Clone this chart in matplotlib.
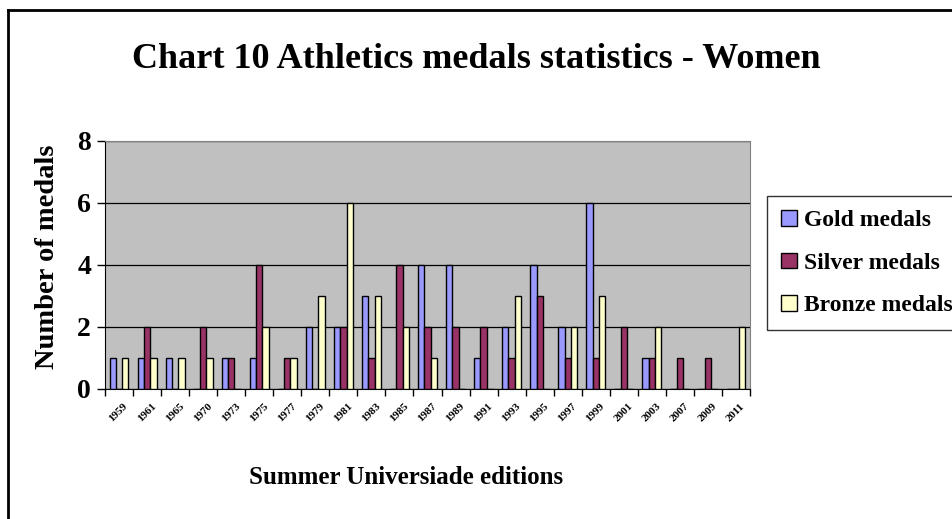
import numpy as np
import matplotlib
matplotlib.use("Agg")
import matplotlib.pyplot as plt
from matplotlib.lines import Line2D

plt.rcParams['font.family'] = ['Liberation Serif', 'DejaVu Serif']
plt.rcParams['font.weight'] = 'bold'

# Universiade editions and medal counts
editions = ['1959', '1961', '1965', '1970', '1973', '1975', '1977', '1979',
            '1981', '1983', '1985', '1987', '1989', '1991', '1993', '1995',
            '1997', '1999', '2001', '2003', '2007', '2009', '2011']
gold = [1, 1, 1, 0, 1, 1, 0, 2, 2, 3, 0, 4, 4, 1, 2, 4, 2, 6, 0, 1, 0, 0, 0]
silver = [0, 2, 0, 2, 1, 4, 1, 0, 2, 1, 4, 2, 2, 2, 1, 3, 1, 1, 2, 1, 1, 1, 0]
bronze = [1, 1, 1, 1, 0, 2, 1, 3, 6, 3, 2, 1, 0, 0, 3, 0, 2, 3, 0, 2, 0, 0, 2]

series = [('Gold medals', gold, '#9999FF'),
          ('Silver medals', silver, '#993366'),
          ('Bronze medals', bronze, '#FFFFCC')]

fig = plt.figure(figsize=(9.52, 5.19), dpi=100)
ax = fig.add_axes([105 / 952, 1 - 389 / 519, 645 / 952, 248 / 519])
ax.set_facecolor('#C0C0C0')

x = np.arange(len(editions)) + 0.5
w = 0.225
for i, (name, vals, col) in enumerate(series):
    ax.bar(x + (i - 1) * w, vals, width=w, color=col, edgecolor='black',
           linewidth=1, label=name, zorder=3)

ax.set_xlim(0, len(editions))
ax.set_ylim(0, 8)
ax.set_yticks([0, 2, 4, 6, 8])
ax.yaxis.grid(True, color='black', linewidth=0.9, zorder=1)
ax.tick_params(axis='y', labelsize=20, length=6, width=1, pad=4)

# tick marks at category boundaries, labels at category centres
ax.set_xticks(np.arange(len(editions) + 1), minor=True)
ax.set_xticks(x + 0.15)
ax.set_xticklabels(editions, rotation=45, ha='right', rotation_mode='anchor',
                   fontsize=8)
ax.tick_params(axis='x', which='major', length=0, pad=9)
ax.tick_params(axis='x', which='minor', length=5, width=1)

for side in ['top', 'right']:
    ax.spines[side].set_color('#808080')
ax.spines['left'].set_color('black')
ax.spines['bottom'].set_color('black')

# axis titles and chart title
fig.text(48 / 952, 1 - 257 / 519, 'Number of medals', rotation=90,
         ha='center', va='center', fontsize=20.5, fontweight='bold')
fig.text(406 / 952, 1 - 477 / 519, 'Summer Universiade editions',
         ha='center', va='center', fontsize=18, fontweight='bold')
fig.text(476 / 952, 1 - 59 / 519, 'Chart 10 Athletics medals statistics - Women',
         ha='center', va='center', fontsize=26, fontweight='bold')

leg = fig.legend(loc='upper left', bbox_to_anchor=(767 / 952, 1 - 196 / 519),
                 fontsize=17, frameon=True, fancybox=False, edgecolor='black',
                 handlelength=0.65, handleheight=0.65, handletextpad=0.3,
                 labelspacing=0.9, borderpad=0.6, borderaxespad=0)
leg.get_frame().set_linewidth(1)

# outer chart border (cut off at right and bottom like the original)
fig.add_artist(Line2D([8 / 952, 8 / 952], [0, 1 - 10 / 519], color='black',
                      linewidth=2, transform=fig.transFigure))
fig.add_artist(Line2D([8 / 952, 1], [1 - 10 / 519, 1 - 10 / 519], color='black',
                      linewidth=2, transform=fig.transFigure))

fig.savefig('out.png', dpi=100)
